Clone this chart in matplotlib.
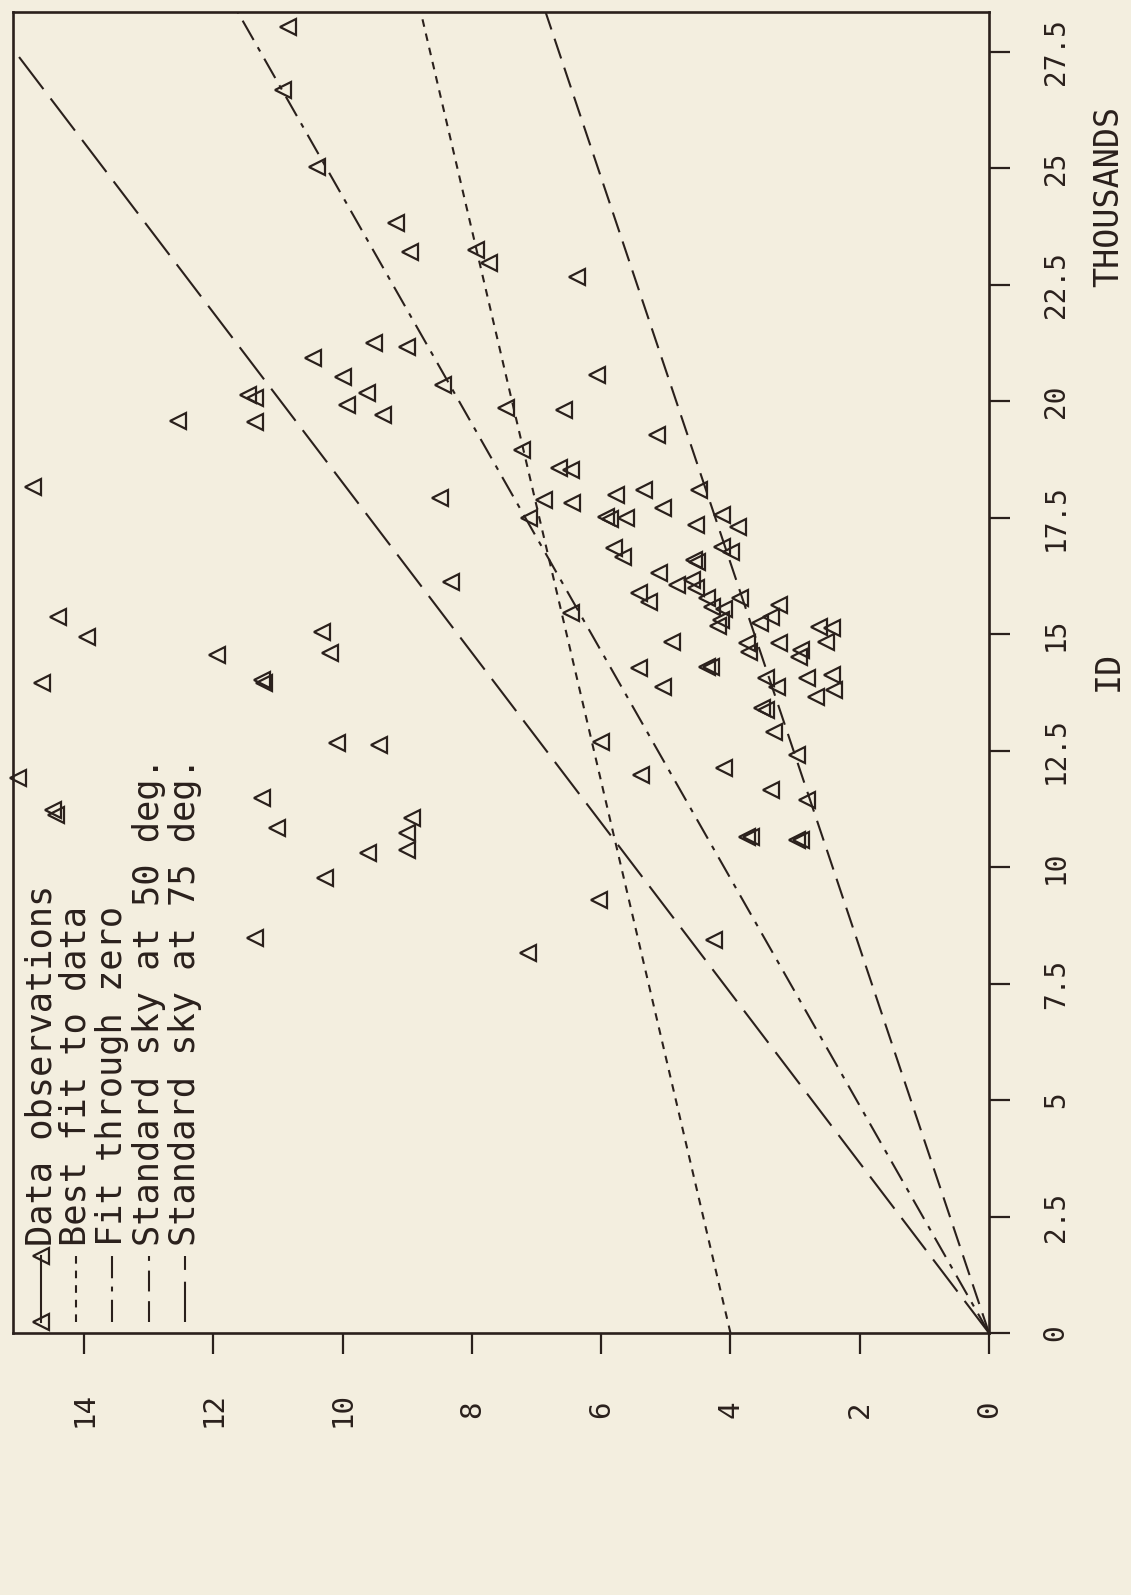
import numpy as np
import matplotlib
matplotlib.use('Agg')
import matplotlib.pyplot as plt

plt.rcParams['font.family'] = ['DejaVu Sans Mono']
plt.rcParams['lines.scale_dashes'] = False

ink = '#2a201c'
paper = '#f3eedf'

# ratio (horizontal after rotation) and ID in thousands
ratio = [10.85, 10.93, 10.39, 9.17, 8.96, 7.93, 7.73, 6.38, 9.51, 9.01,
         10.46, 10.00, 9.63, 9.94, 9.38, 8.45, 6.07, 7.47, 6.57, 7.22,
         11.47, 11.36, 11.36, 12.55, 6.65, 6.46, 6.88, 6.45, 5.77, 7.11,
         5.92, 5.86, 5.61, 5.80, 5.67, 8.50, 8.32, 6.46, 10.32, 10.20,
         10.09, 9.43, 8.92, 9.00, 9.01, 9.61, 10.28, 6.00, 6.03, 11.36,
         7.14, 14.79, 14.40, 13.96, 14.65, 11.95, 11.25, 11.21, 15.02, 14.48,
         14.44, 11.25, 11.02, 5.13, 5.33, 4.48, 5.05, 4.53, 4.13, 3.89,
         4.13, 3.99, 4.56, 4.51, 5.10, 4.82, 4.59, 4.53, 5.41, 5.26,
         4.37, 4.28, 4.10, 4.14, 4.20, 3.86, 3.55, 3.37, 3.25, 3.74,
         3.71, 3.25, 2.91, 2.94, 2.63, 2.43, 2.52, 4.90, 5.41, 5.05,
         4.37, 4.30, 3.45, 3.28, 2.81, 2.43, 2.67, 2.40, 3.51, 3.45,
         3.32, 2.97, 5.38, 4.10, 3.37, 2.81, 3.74, 3.68, 2.97, 2.91,
         4.25]
id_k = [28.03, 26.67, 25.02, 23.82, 23.20, 23.24, 22.96, 22.66, 21.24, 21.16,
        20.92, 20.52, 20.17, 19.91, 19.70, 20.34, 20.56, 19.85, 19.81, 18.95,
        20.13, 20.06, 19.55, 19.57, 18.56, 18.52, 17.88, 17.81, 17.98, 17.49,
        17.51, 17.47, 17.49, 16.85, 16.65, 17.92, 16.12, 15.45, 15.04, 14.59,
        12.66, 12.62, 11.05, 10.73, 10.36, 10.30, 9.76, 12.68, 9.29, 8.48,
        8.15, 18.15, 15.36, 14.94, 13.95, 14.55, 14.01, 13.95, 11.91, 11.22,
        11.12, 11.48, 10.84, 19.27, 18.09, 18.09, 17.70, 17.34, 17.55, 17.30,
        16.87, 16.76, 16.59, 16.55, 16.31, 16.05, 16.16, 15.99, 15.88, 15.69,
        15.77, 15.58, 15.54, 15.30, 15.17, 15.77, 15.24, 15.36, 15.62, 14.81,
        14.61, 14.81, 14.66, 14.51, 15.15, 15.13, 14.83, 14.83, 14.27, 13.86,
        14.29, 14.29, 14.06, 13.86, 14.06, 14.12, 13.65, 13.80, 13.41, 13.37,
        12.90, 12.40, 11.97, 12.12, 11.65, 11.44, 10.64, 10.64, 10.58, 10.58,
        8.43]

# straight lines: intercept, slope (ratio per thousand ID)
best_fit = (4.0, 0.169)
fit_zero = (0.0, 0.41)
sky_50 = (0.0, 0.242)
sky_75 = (0.0, 0.548)

labels = ['Data observations', 'Best fit to data', 'Fit through zero',
          'Standard sky at 50 deg.', 'Standard sky at 75 deg.']
styles = [None, (5.5, 5), (16, 6, 3.5, 6), (15, 7), (29, 8.5)]

x_ticks = [0, 2, 4, 6, 8, 10, 12, 14]
y_ticks = [0, 2.5, 5, 7.5, 10, 12.5, 15, 17.5, 20, 22.5, 25, 27.5]
y_ticklabels = ['0', '2.5', '5', '7.5', '10', '12.5', '15', '17.5', '20',
                '22.5', '25', '27.5']

W, H = 1131, 1595
fig = plt.figure(figsize=(W / 100, H / 100), dpi=100)
fig.patch.set_facecolor(paper)
ax = fig.add_axes([13 / W, 1 - 1333 / H, 976 / W, 1321 / H])
ax.set_facecolor(paper)

ax.plot(ratio, id_k, linestyle='none', marker='<', ms=11.5, mfc='none',
        mec=ink, mew=1.6, clip_on=False)

ids = np.array([0, 28.35])
for (b, m), d in zip([best_fit, fit_zero, sky_50, sky_75], styles[1:]):
    ax.plot(b + m * ids, ids, color=ink, lw=1.5, dashes=d)

ax.set_xlim(15.1, 0)
ax.set_ylim(0, 28.35)

for s in ax.spines.values():
    s.set_linewidth(1.9)
    s.set_color(ink)

ax.set_xticks(x_ticks)
ax.set_xticklabels([str(t) for t in x_ticks], rotation=90, va='center',
                   ha='center', fontsize=21, color=ink)
ax.yaxis.tick_right()
ax.set_yticks(y_ticks)
ax.set_yticklabels(y_ticklabels, rotation=90, va='center', ha='center',
                   fontsize=20, color=ink)
ax.tick_params(direction='out', length=15, width=1.6, color=ink)
ax.tick_params(axis='x', pad=40)
ax.tick_params(axis='y', pad=33)

fig.text(1108 / W, 1 - 671 / H, 'ID', rotation=90, ha='center', va='center',
         fontsize=24, color=ink)
fig.text(1109 / W, 1 - 196 / H, 'THOUSANDS', rotation=90, ha='center',
         va='center', fontsize=24, color=ink)

# legend, drawn rotated like the rest of the page
tr = ax.transAxes
row_x = [41, 76, 112, 149, 185]
for i, (lab, d) in enumerate(zip(labels, styles)):
    xa = (row_x[i] - 13) / 976
    y0, y1 = (1333 - 1322) / 1321, (1333 - 1256) / 1321
    if d is None:
        ax.plot([xa, xa], [y0, y1], transform=tr, color=ink, lw=1.5,
                marker='<', ms=11.5, mfc='none', mec=ink, mew=1.6)
    else:
        ax.plot([xa, xa], [y0, y1], transform=tr, color=ink, lw=1.5, dashes=d)
    ax.text(xa, (1333 - 1246) / 1321, lab, transform=tr, rotation=90,
            rotation_mode='anchor', ha='left', va='center', fontsize=25.5,
            color=ink)

fig.savefig('out.png', dpi=100, facecolor=paper)
